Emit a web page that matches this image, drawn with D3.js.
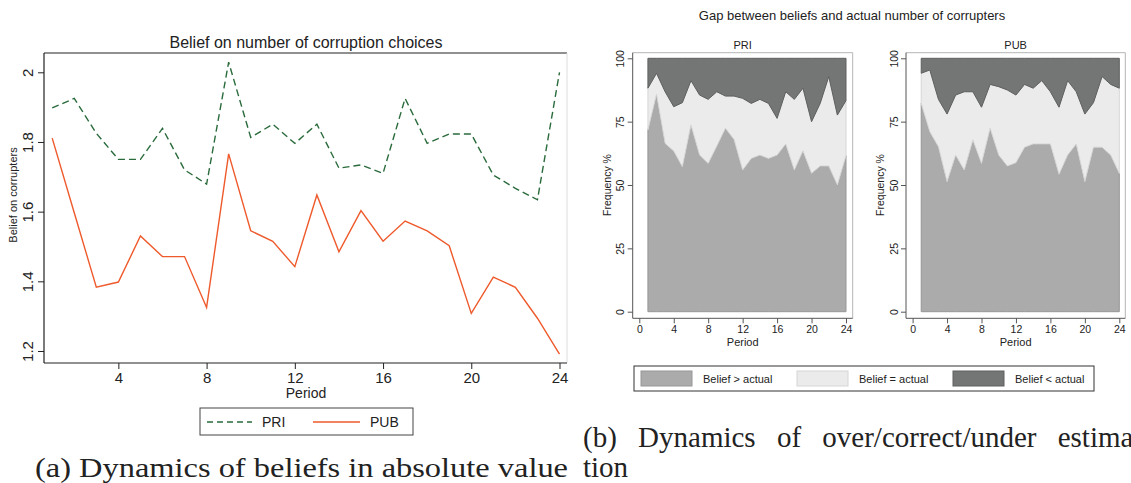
<!DOCTYPE html>
<html lang="en">
<head>
<meta charset="UTF-8">
<title>Beliefs on corrupters</title>
<script src="https://d3js.org/d3.v7.min.js"></script>
<style>
    body { margin: 0; background: #fff; }
    svg { display: block; }
    .sans { font-family: "Liberation Sans", Arial, sans-serif; fill: #222; }
    .serif { font-family: "Liberation Serif", "DejaVu Serif", serif; fill: #222; }
</style>
</head>
<body>
<script>
    const periods = [1,2,3,4,5,6,7,8,9,10,11,12,13,14,15,16,17,18,19,20,21,22,23,24];

    // (a) mean belief on number of corrupters
    const beliefPRI = [1.898,1.925,1.825,1.750,1.750,1.839,1.720,1.679,2.029,1.813,1.851,1.796,
                       1.851,1.725,1.734,1.710,1.925,1.796,1.823,1.823,1.705,1.667,1.634,2.000];
    const beliefPUB = [1.811,1.597,1.383,1.398,1.530,1.471,1.471,1.325,1.766,1.545,1.515,1.442,
                       1.648,1.485,1.603,1.515,1.573,1.545,1.502,1.308,1.412,1.383,1.294,1.191];
    const beliefTicksY = [1.2, 1.4, 1.6, 1.8, 2];
    const periodTicksA = [4, 8, 12, 16, 20, 24];

    // (b) frequency (%) of over / correct / under estimation
    const priOver  = [71.7,85.8,66.4,63.4,57.2,73.7,61.8,58.5,65.4,72.4,68.0,55.9,60.5,61.8,60.5,61.8,66.2,55.9,63.5,54.6,57.5,57.5,50.0,61.6];
    const priEqual = [16.5,8.3,20.4,17.5,25.3,17.5,23.7,25.3,21.4,12.7,17.1,28.3,21.7,22.0,21.7,14.5,20.6,27.9,24.7,20.4,24.7,35.3,27.6,21.7];
    const priUnder = [11.8,5.9,13.2,19.1,17.5,8.8,14.5,16.2,13.2,14.9,14.9,15.8,17.8,16.2,17.8,23.7,13.2,16.2,11.8,25.0,17.8,7.2,22.4,16.7];
    const pubOver  = [82.2,71.0,65.1,51.3,61.8,55.9,67.8,58.5,72.4,61.8,57.5,58.8,64.9,66.2,66.2,66.2,54.2,61.8,66.2,51.3,64.9,64.9,61.8,54.6];
    const pubEqual = [11.9,24.4,18.7,26.7,23.7,30.9,19.0,22.2,17.3,27.0,30.0,26.7,24.8,22.0,25.0,20.6,26.5,29.4,20.6,26.7,17.6,27.9,27.9,33.6];
    const pubUnder = [5.9,4.6,16.2,22.0,14.5,13.2,13.2,19.3,10.3,11.2,12.5,14.5,10.3,11.8,8.8,13.2,19.3,8.8,13.2,22.0,17.5,7.2,10.3,11.8];
    const freqTicksY = [0, 25, 50, 75, 100];
    const periodTicksB = [0, 4, 8, 12, 16, 20, 24];
    const categories = ["Belief > actual", "Belief = actual", "Belief < actual"];

    const W = 1131, H = 483;
    const svg = d3.select("body").append("svg").attr("width", W).attr("height", H);

    // ---------------- panel (a) ----------------
    const xA = d3.scaleLinear().domain([1, 24]).range([52.2, 559.5]);
    const yA = d3.scaleLinear().domain([1.2, 2]).range([351, 72.3]);
    const a = svg.append("g");

    // frame
    a.append("line").attr("x1", 44).attr("x2", 567).attr("y1", 53).attr("y2", 53).attr("stroke", "#222").attr("stroke-width", 1.2);
    a.append("line").attr("x1", 567).attr("x2", 567).attr("y1", 53).attr("y2", 363).attr("stroke", "#ddd");

    const yAxisA = a.append("g").attr("transform", "translate(44,0)")
        .call(d3.axisLeft(yA).tickValues(beliefTicksY).tickSize(6).tickFormat(d3.format("")));
    yAxisA.select(".domain").attr("d", "M0,53V363").attr("stroke", "#222").attr("stroke-width", 1.2);
    yAxisA.selectAll(".tick line").attr("stroke", "#222");
    yAxisA.selectAll(".tick text").attr("class", "sans").attr("font-size", 15)
        .attr("x", 0).attr("text-anchor", "middle").attr("dy", "0.35em")
        .attr("transform", "translate(-16,0) rotate(-90)");

    const xAxisA = a.append("g").attr("transform", "translate(0,363)")
        .call(d3.axisBottom(xA).tickValues(periodTicksA).tickSize(6));
    xAxisA.select(".domain").attr("d", "M44,0H567").attr("stroke", "#222").attr("stroke-width", 1.2);
    xAxisA.selectAll(".tick line").attr("stroke", "#222");
    xAxisA.selectAll(".tick text").attr("class", "sans").attr("font-size", 15).attr("y", 9);

    a.append("text").attr("class", "sans").attr("x", 306).attr("y", 48).attr("text-anchor", "middle")
        .attr("font-size", 16).text("Belief on number of corruption choices");
    a.append("text").attr("class", "sans").attr("x", 306).attr("y", 398).attr("text-anchor", "middle")
        .attr("font-size", 14).text("Period");
    a.append("text").attr("class", "sans").attr("transform", "translate(17,195) rotate(-90)")
        .attr("text-anchor", "middle").attr("font-size", 11).text("Belief on corrupters");

    const lineA = vals => d3.line().x((d, i) => xA(periods[i])).y(d => yA(d))(vals);
    a.append("path").attr("d", lineA(beliefPRI)).attr("fill", "none")
        .attr("stroke", "#2a6b3c").attr("stroke-width", 1.4).attr("stroke-dasharray", "7,4");
    a.append("path").attr("d", lineA(beliefPUB)).attr("fill", "none")
        .attr("stroke", "#ee5a2c").attr("stroke-width", 1.4);

    // legend (a)
    const legA = a.append("g");
    legA.append("rect").attr("x", 200).attr("y", 408).attr("width", 213).attr("height", 27)
        .attr("fill", "#fff").attr("stroke", "#444");
    legA.append("line").attr("x1", 207).attr("x2", 252).attr("y1", 422).attr("y2", 422)
        .attr("stroke", "#2a6b3c").attr("stroke-width", 1.4).attr("stroke-dasharray", "6,4");
    legA.append("text").attr("class", "sans").attr("x", 262).attr("y", 427).attr("font-size", 14).text("PRI");
    legA.append("line").attr("x1", 313).attr("x2", 360).attr("y1", 422).attr("y2", 422)
        .attr("stroke", "#ee5a2c").attr("stroke-width", 1.4);
    legA.append("text").attr("class", "sans").attr("x", 370).attr("y", 427).attr("font-size", 14).text("PUB");

    a.append("text").attr("class", "serif").attr("x", 35).attr("y", 477).attr("font-size", 28)
        .attr("textLength", 533).attr("lengthAdjust", "spacingAndGlyphs")
        .text("(a) Dynamics of beliefs in absolute value");

    // ---------------- panel (b) ----------------
    const fills = ["#ababab", "#ebebeb", "#747675"];
    const strokes = ["#979797", "#d6d6d6", "#5e605f"];

    svg.append("text").attr("class", "sans").attr("x", 852).attr("y", 20).attr("text-anchor", "middle")
        .attr("font-size", 13).text("Gap between beliefs and actual number of corrupters");

    function drawPanel(left, right, name, over, equal, under) {
        const g = svg.append("g");
        const x0 = left + 6.6;
        const x = d3.scaleLinear().domain([0, 24]).range([x0, x0 + 6 * 34.45]);
        const y = d3.scaleLinear().domain([0, 100]).range([311.7, 58.3]);

        const rows = periods.map((p, i) => ({ period: p, over: over[i], equal: equal[i], under: under[i] }));
        const series = d3.stack().keys(["over", "equal", "under"])(rows);
        const area = d3.area().x(d => x(d.data.period)).y0(d => y(d[0])).y1(d => y(d[1]));

        g.selectAll("path.area").data(series).join("path").attr("class", "area")
            .attr("d", area)
            .attr("fill", (d, i) => fills[i])
            .attr("stroke", (d, i) => strokes[i])
            .attr("stroke-width", 1)
            .attr("stroke-linejoin", "round");

        // frame top/right
        g.append("path").attr("d", `M${left},52.7H${right}V318.3`).attr("fill", "none").attr("stroke", "#b5b5b5");

        const yAx = g.append("g").attr("transform", `translate(${left},0)`)
            .call(d3.axisLeft(y).tickValues(freqTicksY).tickSize(5));
        yAx.select(".domain").attr("d", "M0,52.7V318.3").attr("stroke", "#555");
        yAx.selectAll(".tick line").attr("stroke", "#555");
        yAx.selectAll(".tick text").attr("class", "sans").attr("font-size", 10.5).attr("fill", "#333")
            .attr("x", 0).attr("text-anchor", "middle").attr("dy", "0.35em")
            .attr("transform", "translate(-12,0) rotate(-90)");

        const xAx = g.append("g").attr("transform", "translate(0,318.3)")
            .call(d3.axisBottom(x).tickValues(periodTicksB).tickSize(5));
        xAx.select(".domain").attr("d", `M${left},0H${right}`).attr("stroke", "#555");
        xAx.selectAll(".tick line").attr("stroke", "#555");
        xAx.selectAll(".tick text").attr("class", "sans").attr("font-size", 10.5).attr("fill", "#333").attr("y", 7);

        g.append("text").attr("class", "sans").attr("x", (left + right) / 2).attr("y", 49)
            .attr("text-anchor", "middle").attr("font-size", 11).text(name);
        g.append("text").attr("class", "sans").attr("x", (left + right) / 2).attr("y", 346)
            .attr("text-anchor", "middle").attr("font-size", 11).text("Period");
        g.append("text").attr("class", "sans").attr("transform", `translate(${left - 22},185) rotate(-90)`)
            .attr("text-anchor", "middle").attr("font-size", 10.5).text("Frequency %");
    }

    drawPanel(632.7, 852.7, "PRI", priOver, priEqual, priUnder);
    drawPanel(906, 1125.3, "PUB", pubOver, pubEqual, pubUnder);

    // legend (b)
    const legB = svg.append("g");
    legB.append("rect").attr("x", 634).attr("y", 366).attr("width", 460).attr("height", 25)
        .attr("fill", "#fff").attr("stroke", "#333");
    const legX = [641, 797, 953];
    categories.forEach((c, i) => {
        legB.append("rect").attr("x", legX[i]).attr("y", 371).attr("width", 51).attr("height", 15)
            .attr("fill", fills[i]).attr("stroke", strokes[i]);
        legB.append("text").attr("class", "sans").attr("x", legX[i] + 62).attr("y", 382.5)
            .attr("font-size", 11).text(c);
    });

    // caption (b), justified line running past the right edge
    svg.append("text").attr("class", "serif").attr("x", 583).attr("y", 447)
        .attr("font-size", 29).attr("word-spacing", 14)
        .text("(b) Dynamics of over/correct/under estima-");
    svg.append("text").attr("class", "serif").attr("x", 583).attr("y", 477)
        .attr("font-size", 29).text("tion");
</script>
</body>
</html>
